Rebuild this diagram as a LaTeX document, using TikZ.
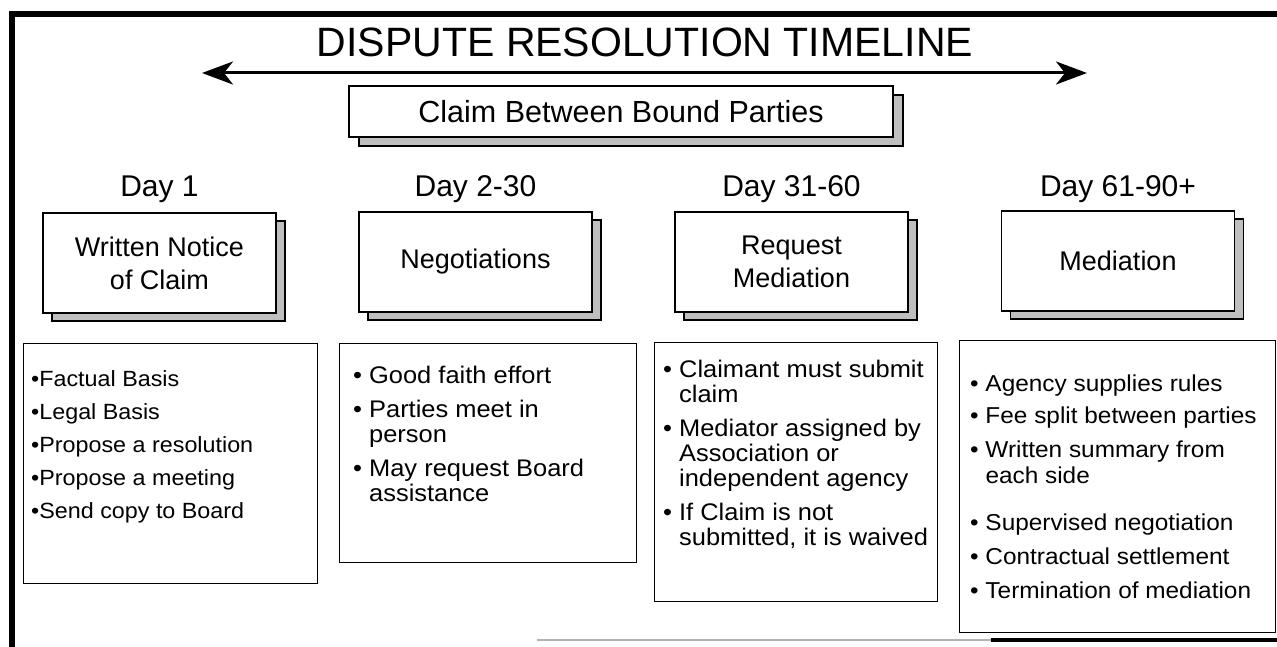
\documentclass[tikz,border=0pt]{standalone}
\usepackage{fontspec}
\setmainfont{Liberation Sans}
\newfontfamily\bulletfont[FakeStretch=1.06]{Liberation Sans}
\usetikzlibrary{arrows.meta,shadows}
\begin{document}
\begin{tikzpicture}[x=1pt,y=-1pt,
  frameline/.style={line width=6.5pt},
  shadowopts/.style={fill=gray!50, draw=black, line width=1.2pt},
  hdrbox/.style={draw, fill=white, line width=1.4pt, minimum width=233pt, minimum height=100pt,
    align=center, font=\fontsize{27}{33}\selectfont, inner sep=0pt,
    copy shadow={shadow xshift=9pt, shadow yshift=-8pt, shadowopts}},
  claimbox/.style={draw, fill=white, line width=1.4pt, minimum width=544pt, minimum height=51pt,
    inner sep=0pt, font=\fontsize{30.5}{34}\selectfont,
    copy shadow={shadow xshift=10pt, shadow yshift=-9pt, shadowopts}},
  listbox/.style={draw, line width=1.4pt, anchor=north west, inner sep=0pt},
  bul/.style={anchor=base west, inner sep=0pt},
  bulA/.style={bul, font=\bulletfont\fontsize{22}{26}\selectfont},
  bulB/.style={bul, font=\bulletfont\fontsize{24}{26}\selectfont},
  bulC/.style={bul, font=\bulletfont\fontsize{24}{26}\selectfont},
  bulD/.style={bul, font=\bulletfont\fontsize{23}{26}\selectfont},
  daylbl/.style={anchor=base, inner sep=0pt, font=\fontsize{30}{36}\selectfont},
]
\useasboundingbox (0,0) rectangle (1277,647);
% page frame
\draw[frameline] (12,647) -- (12,14) -- (1277,14);
\draw[line width=2.5pt, gray!60] (537,640) -- (991,640);
\draw[line width=3.5pt] (991,640) -- (1277,640);

% title and timeline arrow
\node[anchor=base, inner sep=0pt, font=\fontsize{41}{46}\selectfont] (title) at (645,57) {DISPUTE RESOLUTION TIMELINE};
\coordinate (arrL) at (202,73);
\coordinate (arrR) at (1087,73);
\draw[line width=3pt, {Stealth[length=31pt,width=23pt,inset=9pt]}-{Stealth[length=31pt,width=23pt,inset=9pt]}] (arrL) -- (arrR);

% claim box
\node[claimbox] (claim) at (621,111.5) {Claim Between Bound Parties};

% day labels
\node[daylbl] (d1) at (159.5,197) {Day 1};
\node[daylbl] (d2) at (475.5,197) {Day 2-30};
\node[daylbl] (d3) at (791.5,197) {Day 31-60};
\node[daylbl] (d4) at (1118,197) {Day 61-90+};

% stage boxes
\node[hdrbox] (h1) at (159.5,263) {Written Notice\\of Claim};
\node[hdrbox] (h2) at (475.5,262) {Negotiations};
\node[hdrbox] (h3) at (791.5,262) {Request\\Mediation};
\node[hdrbox] (h4) at (1118,261) {Mediation};

% list boxes
\node[listbox, minimum width=294pt, minimum height=240pt] (l1) at (23,343) {};
\node[listbox, minimum width=297pt, minimum height=219pt] (l2) at (339,343) {};
\node[listbox, minimum width=283pt, minimum height=259pt] (l3) at (654,342) {};
\node[listbox, minimum width=316pt, minimum height=292pt] (l4) at (959,340) {};

% list 1
\node[bulA] (t1a) at (31,386) {•Factual Basis};
\node[bulA] (t1b) at (31,419) {•Legal Basis};
\node[bulA] (t1c) at (31,452) {•Propose a resolution};
\node[bulA] (t1d) at (31,485) {•Propose a meeting};
\node[bulA] (t1e) at (31,518) {•Send copy to Board};

% list 2
\node[bulB] (t2a) at (353,383) {• Good faith effort};
\node[bulB] (t2b) at (353,417) {• Parties meet in};
\node[bulB] (t2c) at (353,442) {\hphantom{• }person};
\node[bulB] (t2d) at (353,476) {• May request Board};
\node[bulB] (t2e) at (353,501) {\hphantom{• }assistance};

% list 3
\node[bulC] (t3a) at (663,377) {• Claimant must submit};
\node[bulC] (t3b) at (663,402) {\hphantom{• }claim};
\node[bulC] (t3c) at (663,436) {• Mediator assigned by};
\node[bulC] (t3d) at (663,461) {\hphantom{• }Association or};
\node[bulC] (t3e) at (663,486) {\hphantom{• }independent agency};
\node[bulC] (t3f) at (663,520) {• If Claim is not};
\node[bulC] (t3g) at (663,545) {\hphantom{• }submitted, it is waived};

% list 4
\node[bulD] (t4a) at (970,391) {• Agency supplies rules};
\node[bulD] (t4b) at (970,423) {• Fee split between parties};
\node[bulD] (t4c) at (970,457) {• Written summary from};
\node[bulD] (t4d) at (970,483) {\hphantom{• }each side};
\node[bulD] (t4e) at (970,530) {• Supervised negotiation};
\node[bulD] (t4f) at (970,564) {• Contractual settlement};
\node[bulD] (t4g) at (970,598) {• Termination of mediation};
\end{tikzpicture}
\end{document}
